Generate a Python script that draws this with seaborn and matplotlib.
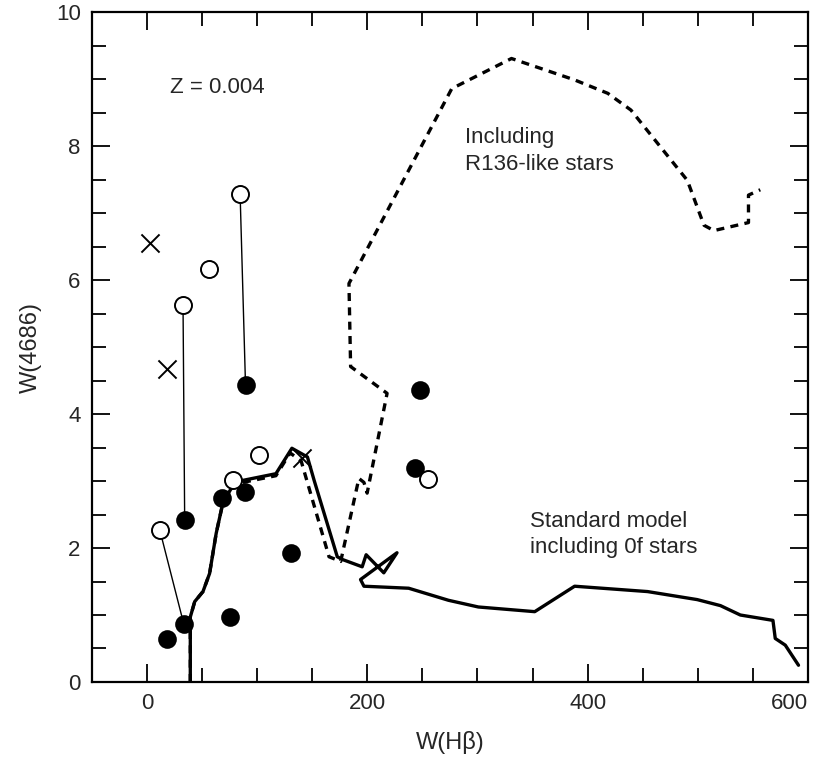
import matplotlib
matplotlib.use("Agg")
import matplotlib.pyplot as plt
from matplotlib.ticker import MultipleLocator
import seaborn as sns
import pandas as pd

# Standard model track (solid)
std_x = [39.4, 39.4, 43.4, 50.9, 56.9, 62.9, 68.9, 76.5, 87.0, 117.1, 131.6, 145.7,
         151.8, 172.8, 177.3, 195.4, 199.0, 215.0, 227.0, 193.9, 197.0, 237.6, 273.7,
         300.8, 352.0, 388.2, 454.4, 499.5, 520.6, 538.6, 568.2, 570.3, 579.4, 591.4]
std_y = [0.0, 0.97, 1.20, 1.35, 1.62, 2.22, 2.67, 2.89, 3.01, 3.11, 3.49, 3.36,
         3.01, 1.87, 1.83, 1.72, 1.90, 1.63, 1.93, 1.53, 1.43, 1.40, 1.22,
         1.12, 1.05, 1.43, 1.35, 1.23, 1.14, 1.00, 0.92, 0.65, 0.55, 0.25]

# Track including R136-like stars (dashed)
r136_x = [39.4, 39.4, 43.4, 50.9, 56.9, 62.9, 68.9, 76.5, 87.0, 117.1, 130.0, 140.0,
          165.3, 175.9, 192.4, 197.0, 199.9, 218.0, 184.9, 183.4, 276.7, 330.9,
          388.2, 418.3, 439.3, 490.5, 505.6, 514.6, 546.0, 546.0, 556.7]
r136_y = [0.0, 0.97, 1.20, 1.35, 1.62, 2.22, 2.67, 2.89, 2.98, 3.08, 3.42, 3.30,
          1.87, 1.80, 3.04, 2.98, 2.82, 4.31, 4.71, 5.95, 8.86, 9.31,
          8.99, 8.79, 8.54, 7.49, 6.82, 6.74, 6.86, 7.27, 7.35]

# Observed points
filled_x = [89.5, 34.3, 68.4, 89.4, 130.7, 75.6, 33.4, 17.8, 247.5, 243.0]
filled_y = [4.44, 2.42, 2.74, 2.83, 1.93, 0.97, 0.87, 0.64, 4.36, 3.20]
open_x = [84.6, 56.3, 32.8, 102.0, 78.6, 11.7, 255.0]
open_y = [7.29, 6.16, 5.63, 3.39, 3.01, 2.27, 3.03]
cross_x = [2.7, 18.3, 141.2]
cross_y = [6.56, 4.67, 3.34]

# Open/filled pairs joined by thin lines
pair_id = [0, 0, 1, 1, 2, 2]
pair_x = [84.6, 89.5, 32.8, 34.3, 11.7, 33.4]
pair_y = [7.29, 4.44, 5.63, 2.42, 2.27, 0.87]

sns.set_style("ticks")
plt.rcParams['font.family'] = ['Liberation Sans', 'DejaVu Sans']

fig = plt.figure(figsize=(8.27, 7.68), dpi=100)
ax = fig.add_axes([0.111, 0.112, 0.866, 0.872])

pairs = pd.DataFrame({"x": pair_x, "y": pair_y, "pair": pair_id})
sns.lineplot(data=pairs, x="x", y="y", units="pair", estimator=None, sort=False,
             color="black", linewidth=1.0, ax=ax)

sns.lineplot(x=std_x, y=std_y, sort=False, estimator=None, color="black",
             linewidth=2.4, ax=ax)
sns.lineplot(x=r136_x, y=r136_y, sort=False, estimator=None, color="black",
             linewidth=2.4, dashes=False, ax=ax)
ax.lines[-1].set_dashes((2.4, 1.9))

sns.scatterplot(x=filled_x, y=filled_y, color="black", s=150, edgecolor="black",
                linewidth=1.2, zorder=5, ax=ax)
sns.scatterplot(x=open_x, y=open_y, color="white", s=150, edgecolor="black",
                linewidth=1.4, zorder=5, ax=ax)
sns.scatterplot(x=cross_x, y=cross_y, marker="x", color="black", s=170,
                linewidth=1.4, zorder=5, ax=ax)

ax.text(20.8, 8.88, "Z = 0.004", fontsize=16, va="center", ha="left")
ax.text(289, 7.93, "Including\nR136-like stars", fontsize=16, va="center",
        ha="left", linespacing=1.35)
ax.text(347.8, 2.2, "Standard model\nincluding 0f stars", fontsize=16,
        va="center", ha="left", linespacing=1.35)

ax.set_xlim(-50, 600)
ax.set_ylim(0, 10)
ax.xaxis.set_major_locator(MultipleLocator(200))
ax.xaxis.set_minor_locator(MultipleLocator(50))
ax.yaxis.set_major_locator(MultipleLocator(2))
ax.yaxis.set_minor_locator(MultipleLocator(0.5))
ax.tick_params(which="both", direction="in", top=True, right=True,
               labelsize=16, width=1.3, color="black")
ax.tick_params(which="major", length=13, pad=8)
ax.tick_params(which="minor", length=10)
for sp in ax.spines.values():
    sp.set_visible(True)
    sp.set_linewidth(1.6)
    sp.set_color("black")

ax.set_xlabel("W(H\u03b2)", fontsize=17, labelpad=12)
ax.set_ylabel("W(4686)", fontsize=17, labelpad=10)

# keep the last x label ("600") inside the canvas, as in the original
fig.canvas.draw()
for tick in ax.xaxis.get_major_ticks():
    if abs(tick.get_loc() - 600) < 1e-6:
        tick.label1.set_horizontalalignment("right")

fig.savefig("out.png", dpi=100)
